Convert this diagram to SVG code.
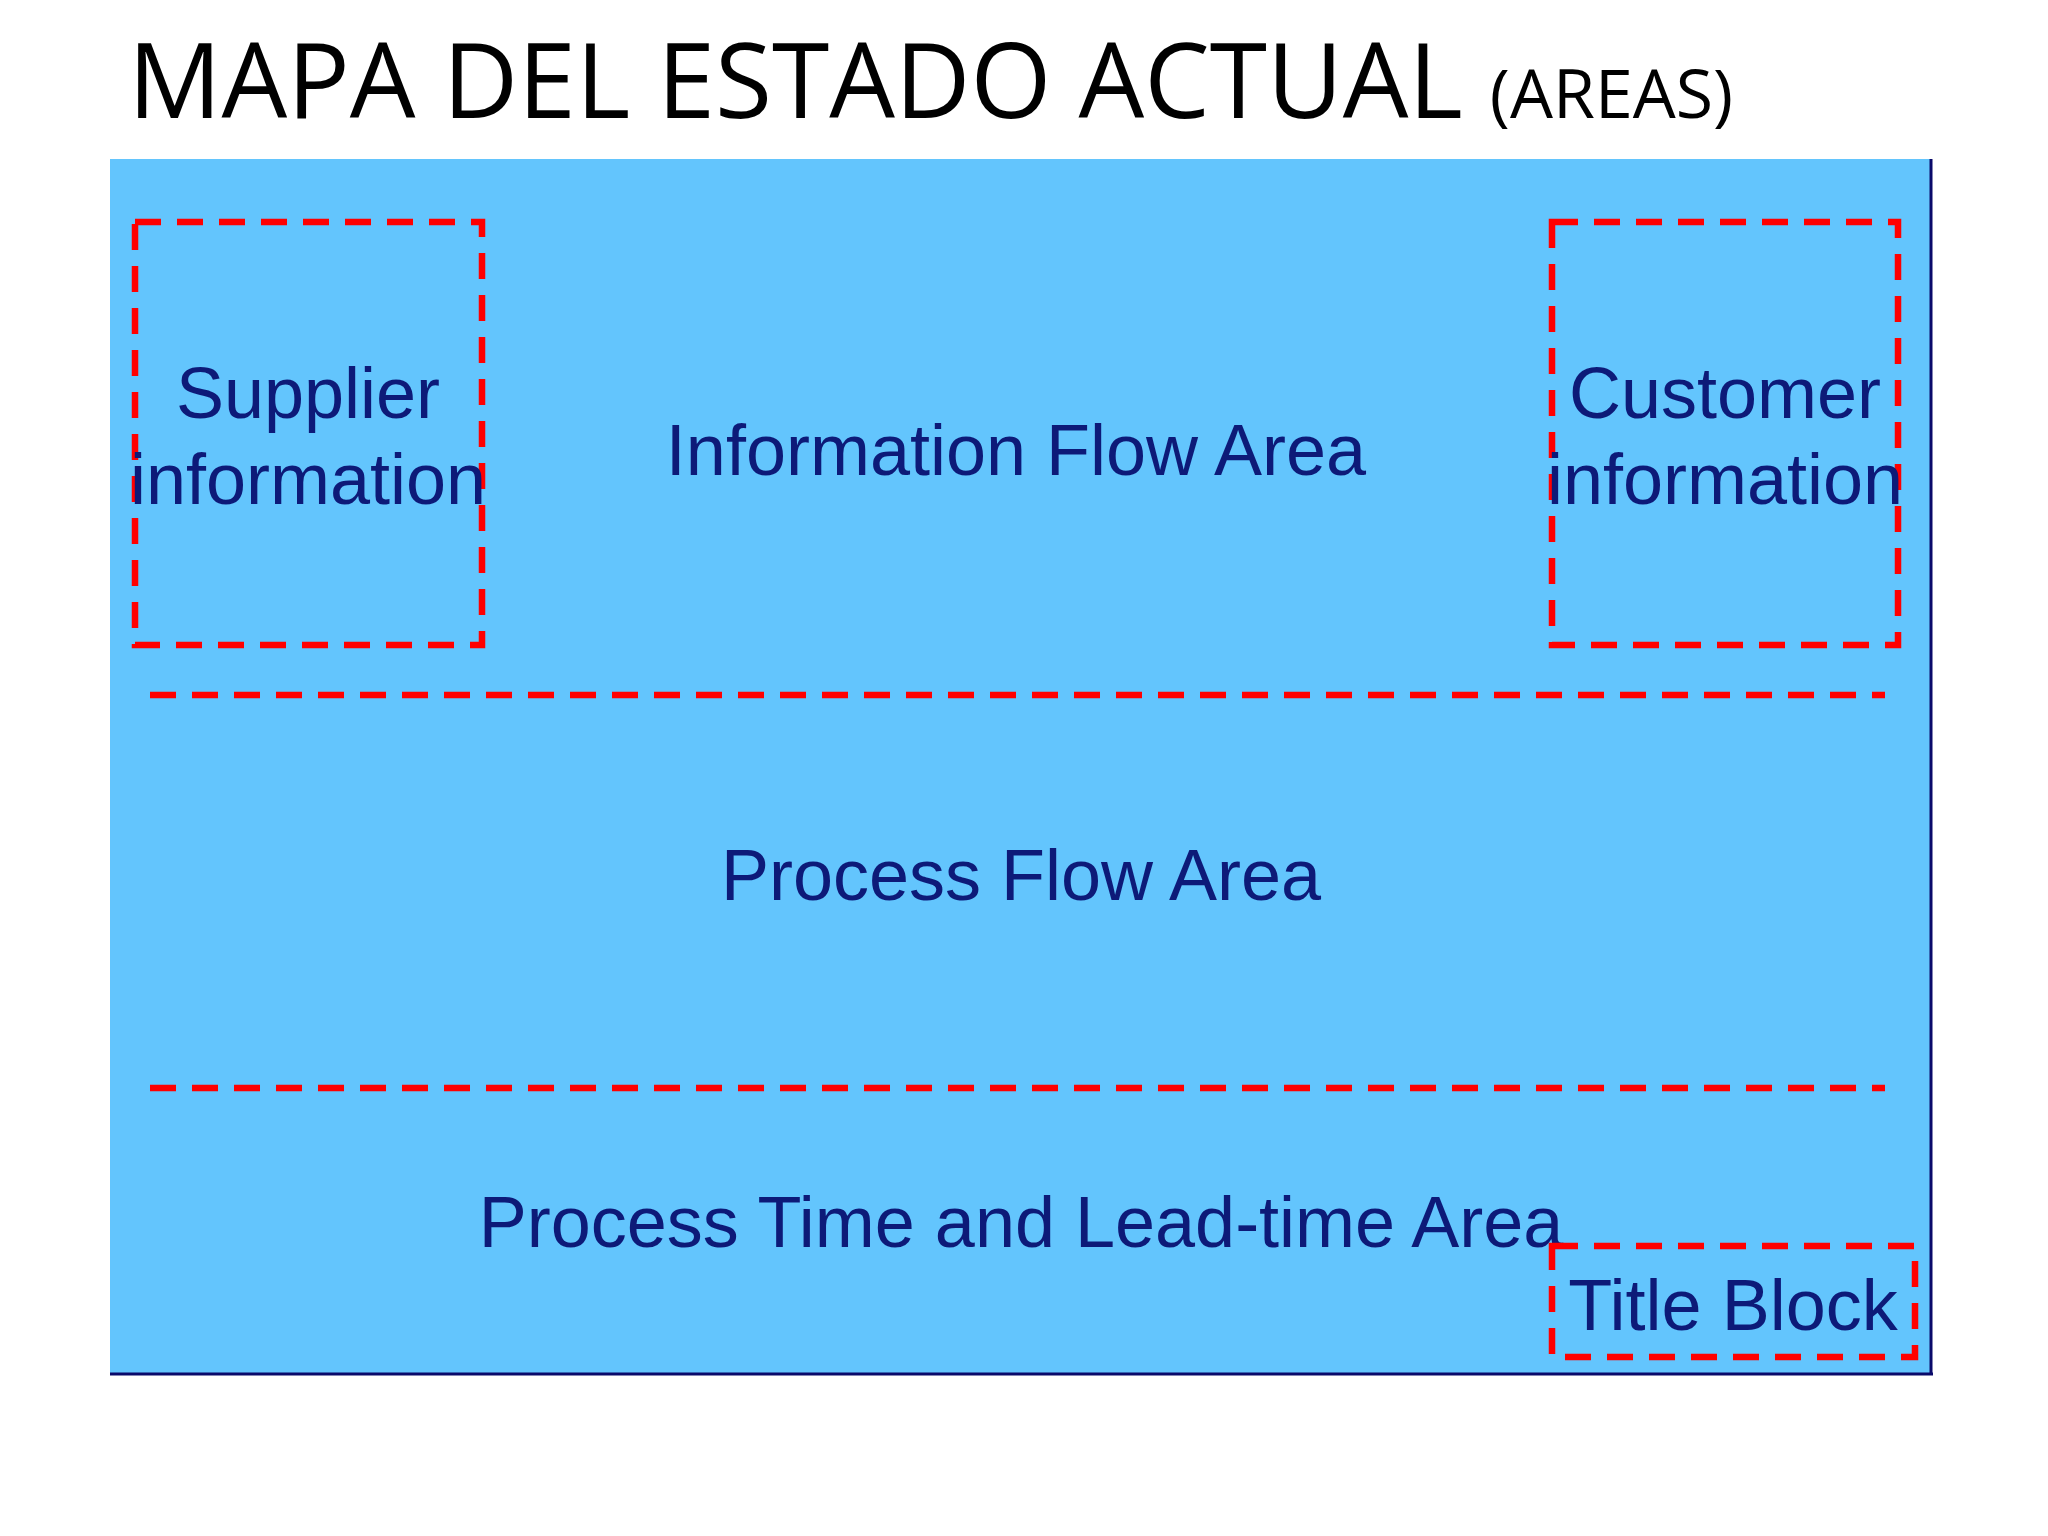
<svg xmlns="http://www.w3.org/2000/svg" width="2048" height="1536" viewBox="0 0 2048 1536">
<style>
.d{fill:none;stroke:#ff0000;stroke-width:6.5;stroke-dasharray:26 16}
.t{font-family:"Liberation Sans Narrow","Liberation Sans",Arial,sans-serif;font-size:72px;fill:#0d1a78;text-anchor:middle}
.h{font-family:"Open Sans","Liberation Sans",sans-serif;fill:#000}
</style>
<rect width="2048" height="1536" fill="#fff"/>
<g id="title"><text class="h" x="128" y="118" font-size="104">MAPA DEL ESTADO  ACTUAL <tspan font-size="68">(AREAS)</tspan></text></g>
<g id="board">
<rect x="110" y="159" width="1821" height="1214" fill="#63c5fd"/>
<line x1="1931" y1="159" x2="1931" y2="1375" stroke="#0a0a6a" stroke-width="3"/>
<line x1="110" y1="1374" x2="1933" y2="1374" stroke="#0a0a6a" stroke-width="3"/>
</g>
<g id="connectors">
<line class="d" x1="150" y1="695" x2="1885" y2="695"/>
<line class="d" x1="150" y1="1088" x2="1885" y2="1088"/>
</g>
<g id="supplier"><rect class="d" x="135" y="222" width="347" height="423"/>
<text class="t" x="308" y="418">Supplier</text><text class="t" x="308" y="504">information</text></g>
<g id="customer"><rect class="d" x="1552" y="222" width="346" height="423"/>
<text class="t" x="1725" y="418">Customer</text><text class="t" x="1725" y="504">information</text></g>
<g id="info"><text class="t" x="1016" y="475">Information Flow Area</text></g>
<g id="process"><text class="t" x="1021" y="900">Process Flow Area</text></g>
<g id="time"><text class="t" x="1021" y="1247">Process Time and Lead-time Area</text></g>
<g id="titleblock"><rect class="d" x="1552" y="1246" width="363" height="111"/>
<text class="t" x="1733" y="1330">Title Block</text></g>
</svg>
